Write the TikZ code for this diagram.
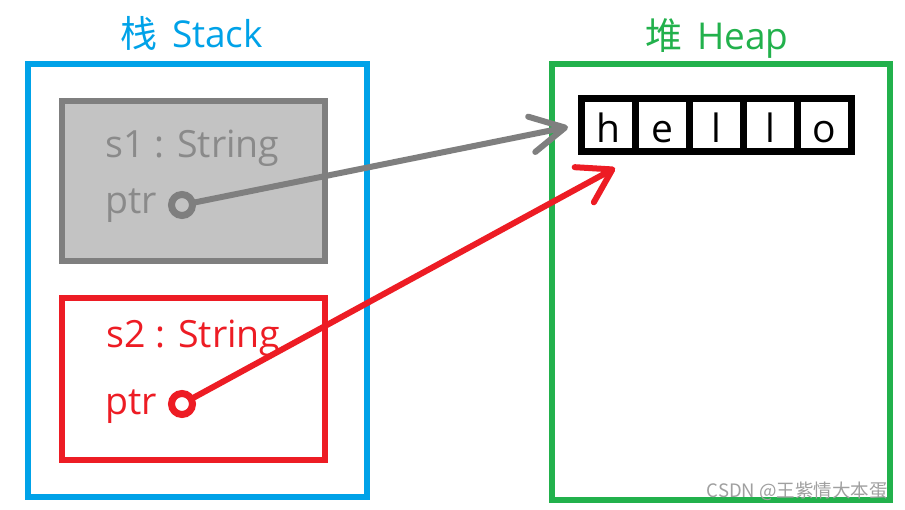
\documentclass[tikz,border=0pt]{standalone}
\usepackage{fontspec}
\setmainfont{Open Sans}
\newfontfamily\cjk{Noto Sans CJK SC}
\usetikzlibrary{arrows.meta}
\definecolor{stackblue}{HTML}{00A2E8}
\definecolor{heapgreen}{HTML}{22B14C}
\definecolor{ptrred}{HTML}{ED1C24}
\definecolor{boxgray}{HTML}{7F7F7F}
\definecolor{fillgray}{HTML}{C3C3C3}
\definecolor{textgray}{HTML}{8A8A8A}
\definecolor{markgray}{HTML}{A0A0A0}
\begin{document}
\begin{tikzpicture}[x=1pt,y=-1pt,
  region/.style={line width=6pt},
  varbox/.style={line width=6pt},
  cell/.style={draw=black, line width=7pt, minimum width=54pt, minimum height=53pt,
    inner sep=0pt, text height=36pt, text depth=0pt, font=\fontsize{39}{41}\selectfont},
  lbl/.style={anchor=base west, inner sep=0pt, font=\fontsize{37.5}{42}\selectfont},
  ttl/.style={anchor=base west, inner sep=0pt, font=\fontsize{37}{41}\selectfont},
  ptrdot/.style={circle, draw, line width=7pt, minimum size=21pt, inner sep=0pt},
  ptrarrow/.style={line width=6pt, line cap=round, line join=round}
]
\useasboundingbox (0,0) rectangle (905,510);
\fill[white] (0,0) rectangle (905,510);

% titles
\node[ttl, text=stackblue] (tstack) at (120,48) {{\cjk 栈}\hspace{0.4em}Stack};
\node[ttl, text=heapgreen] (theap) at (645,50) {{\cjk 堆}\hspace{0.4em}Heap};

% regions
\draw[region, stackblue] (28,64) rectangle (367,497);
\draw[region, heapgreen] (551.5,64) rectangle (890,500);

% s1 box
\draw[varbox, draw=boxgray, fill=fillgray] (61.5,101.5) rectangle (325,261.5);
\node[lbl, text=textgray] (s1) at (105,158) {s1 : String};
\node[lbl, text=textgray] (ptr1) at (105,214) {ptr};
\node[ptrdot, draw=boxgray] (p1) at (182,205) {};

% s2 box
\draw[varbox, draw=ptrred] (61.5,298.5) rectangle (325,460);
\node[lbl, text=ptrred] (s2) at (106,348) {s2 : String};
\node[lbl, text=ptrred] (ptr2) at (105,415) {ptr};
\node[ptrdot, draw=ptrred] (p2) at (182,404) {};

% hello cells
\node[cell] (c1) at (608.5,125) {h};
\node[cell] (c2) at (662.5,125) {e};
\node[cell] (c3) at (716.5,125) {l};
\node[cell] (c4) at (770.5,125) {l};
\node[cell] (c5) at (824.5,125) {o};

% arrow tips
\coordinate (tip1) at (568,127);
\coordinate (tip2) at (615,168);

\draw[ptrarrow, boxgray, -{Straight Barb[length=34pt, width=36pt, line cap=round, line join=round]}] (p1) -- (tip1);
\draw[ptrarrow, ptrred, -{Straight Barb[length=32pt, width=40pt, line cap=round, line join=round]}] (p2) -- (tip2);

% watermark
\node[anchor=base east, inner sep=0pt, text=markgray, font=\cjk\fontsize{18.5}{20}\selectfont] (wm) at (888,497) {CSDN @王紫情大本蛋};
\end{tikzpicture}
\end{document}
